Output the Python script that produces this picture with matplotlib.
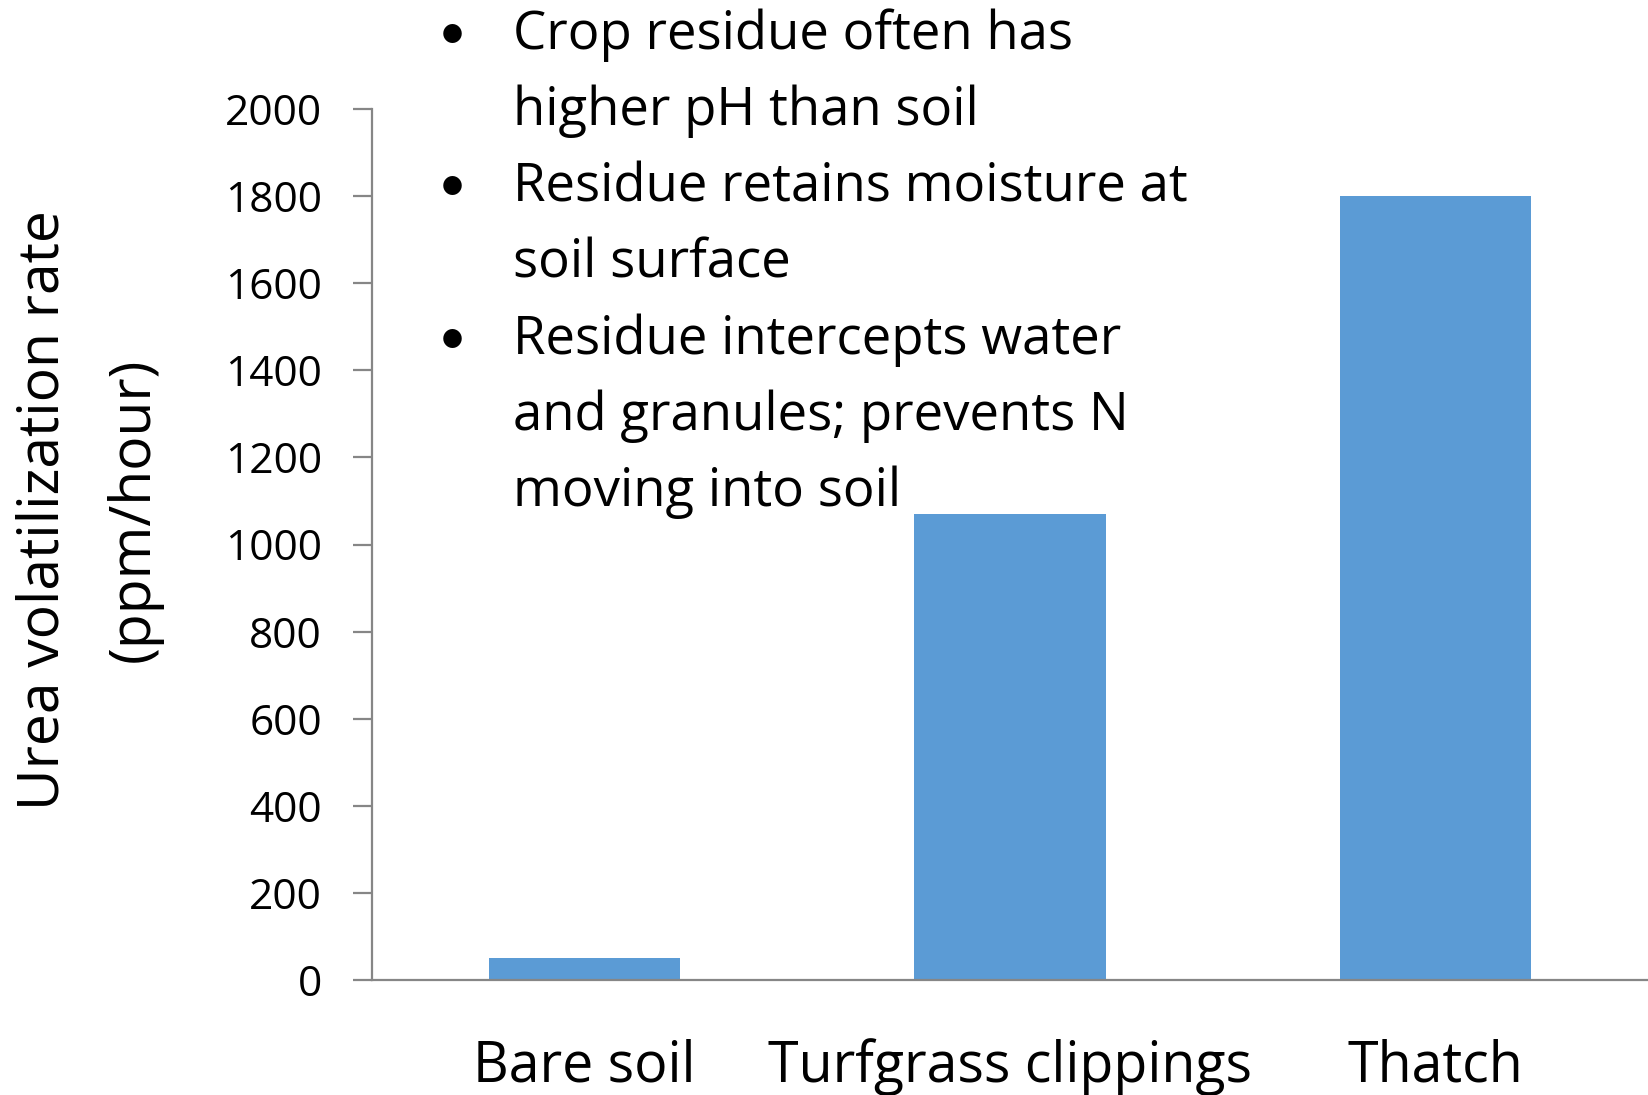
import matplotlib

matplotlib.use("Agg")
import matplotlib.pyplot as plt  # noqa: E402

plt.rcParams["font.family"] = ["Open Sans", "DejaVu Sans"]

# ---- data ----
categories = ["Bare soil", "Turfgrass clippings", "Thatch"]
rates = [50, 1070, 1800]
y_ticks = [0, 200, 400, 600, 800, 1000, 1200, 1400, 1600, 1800, 2000]
bullets = [
    ["Crop residue often has", "higher pH than soil"],
    ["Residue retains moisture at", "soil surface"],
    ["Residue intercepts water", "and granules; prevents N", "moving into soil"],
]

W, H = 1648, 1095
fig = plt.figure(figsize=(W / 100, H / 100), dpi=100)
ax = fig.add_axes([372 / W, 1 - 980 / H, 1276 / W, (980 - 109) / H])

ax.bar(range(len(categories)), rates, width=0.45, color="#5B9BD5", zorder=2)
ax.set_xlim(-0.5, len(categories) - 0.5)
ax.set_ylim(0, 2000)
ax.set_yticks(y_ticks)
ax.set_xticks(range(len(categories)))
ax.set_xticklabels(categories, fontsize=40)

for s in ("top", "right"):
    ax.spines[s].set_visible(False)
for s in ("left", "bottom"):
    ax.spines[s].set_color("#868686")
    ax.spines[s].set_linewidth(1.6)
ax.tick_params(axis="y", length=14, width=1.6, color="#868686",
               pad=22, labelsize=30.5)
ax.tick_params(axis="x", length=0, pad=42)

# y label, two lines
fig.text(44 / W, 1 - 510 / H, "Urea volatilization rate", rotation=90,
         ha="center", va="center", fontsize=41)
fig.text(134 / W, 1 - 510 / H, "(ppm/hour)", rotation=90,
         ha="center", va="center", fontsize=41)

# bullet text block
y = 35
for item in bullets:
    fig.text(452 / W, 1 - y / H, "\u2022", ha="center", va="center",
             fontsize=36, family="Lato")
    for line in item:
        fig.text(513 / W, 1 - y / H, line, ha="left", va="center", fontsize=38)
        y += 76.2

fig.savefig("out.png", dpi=100)
